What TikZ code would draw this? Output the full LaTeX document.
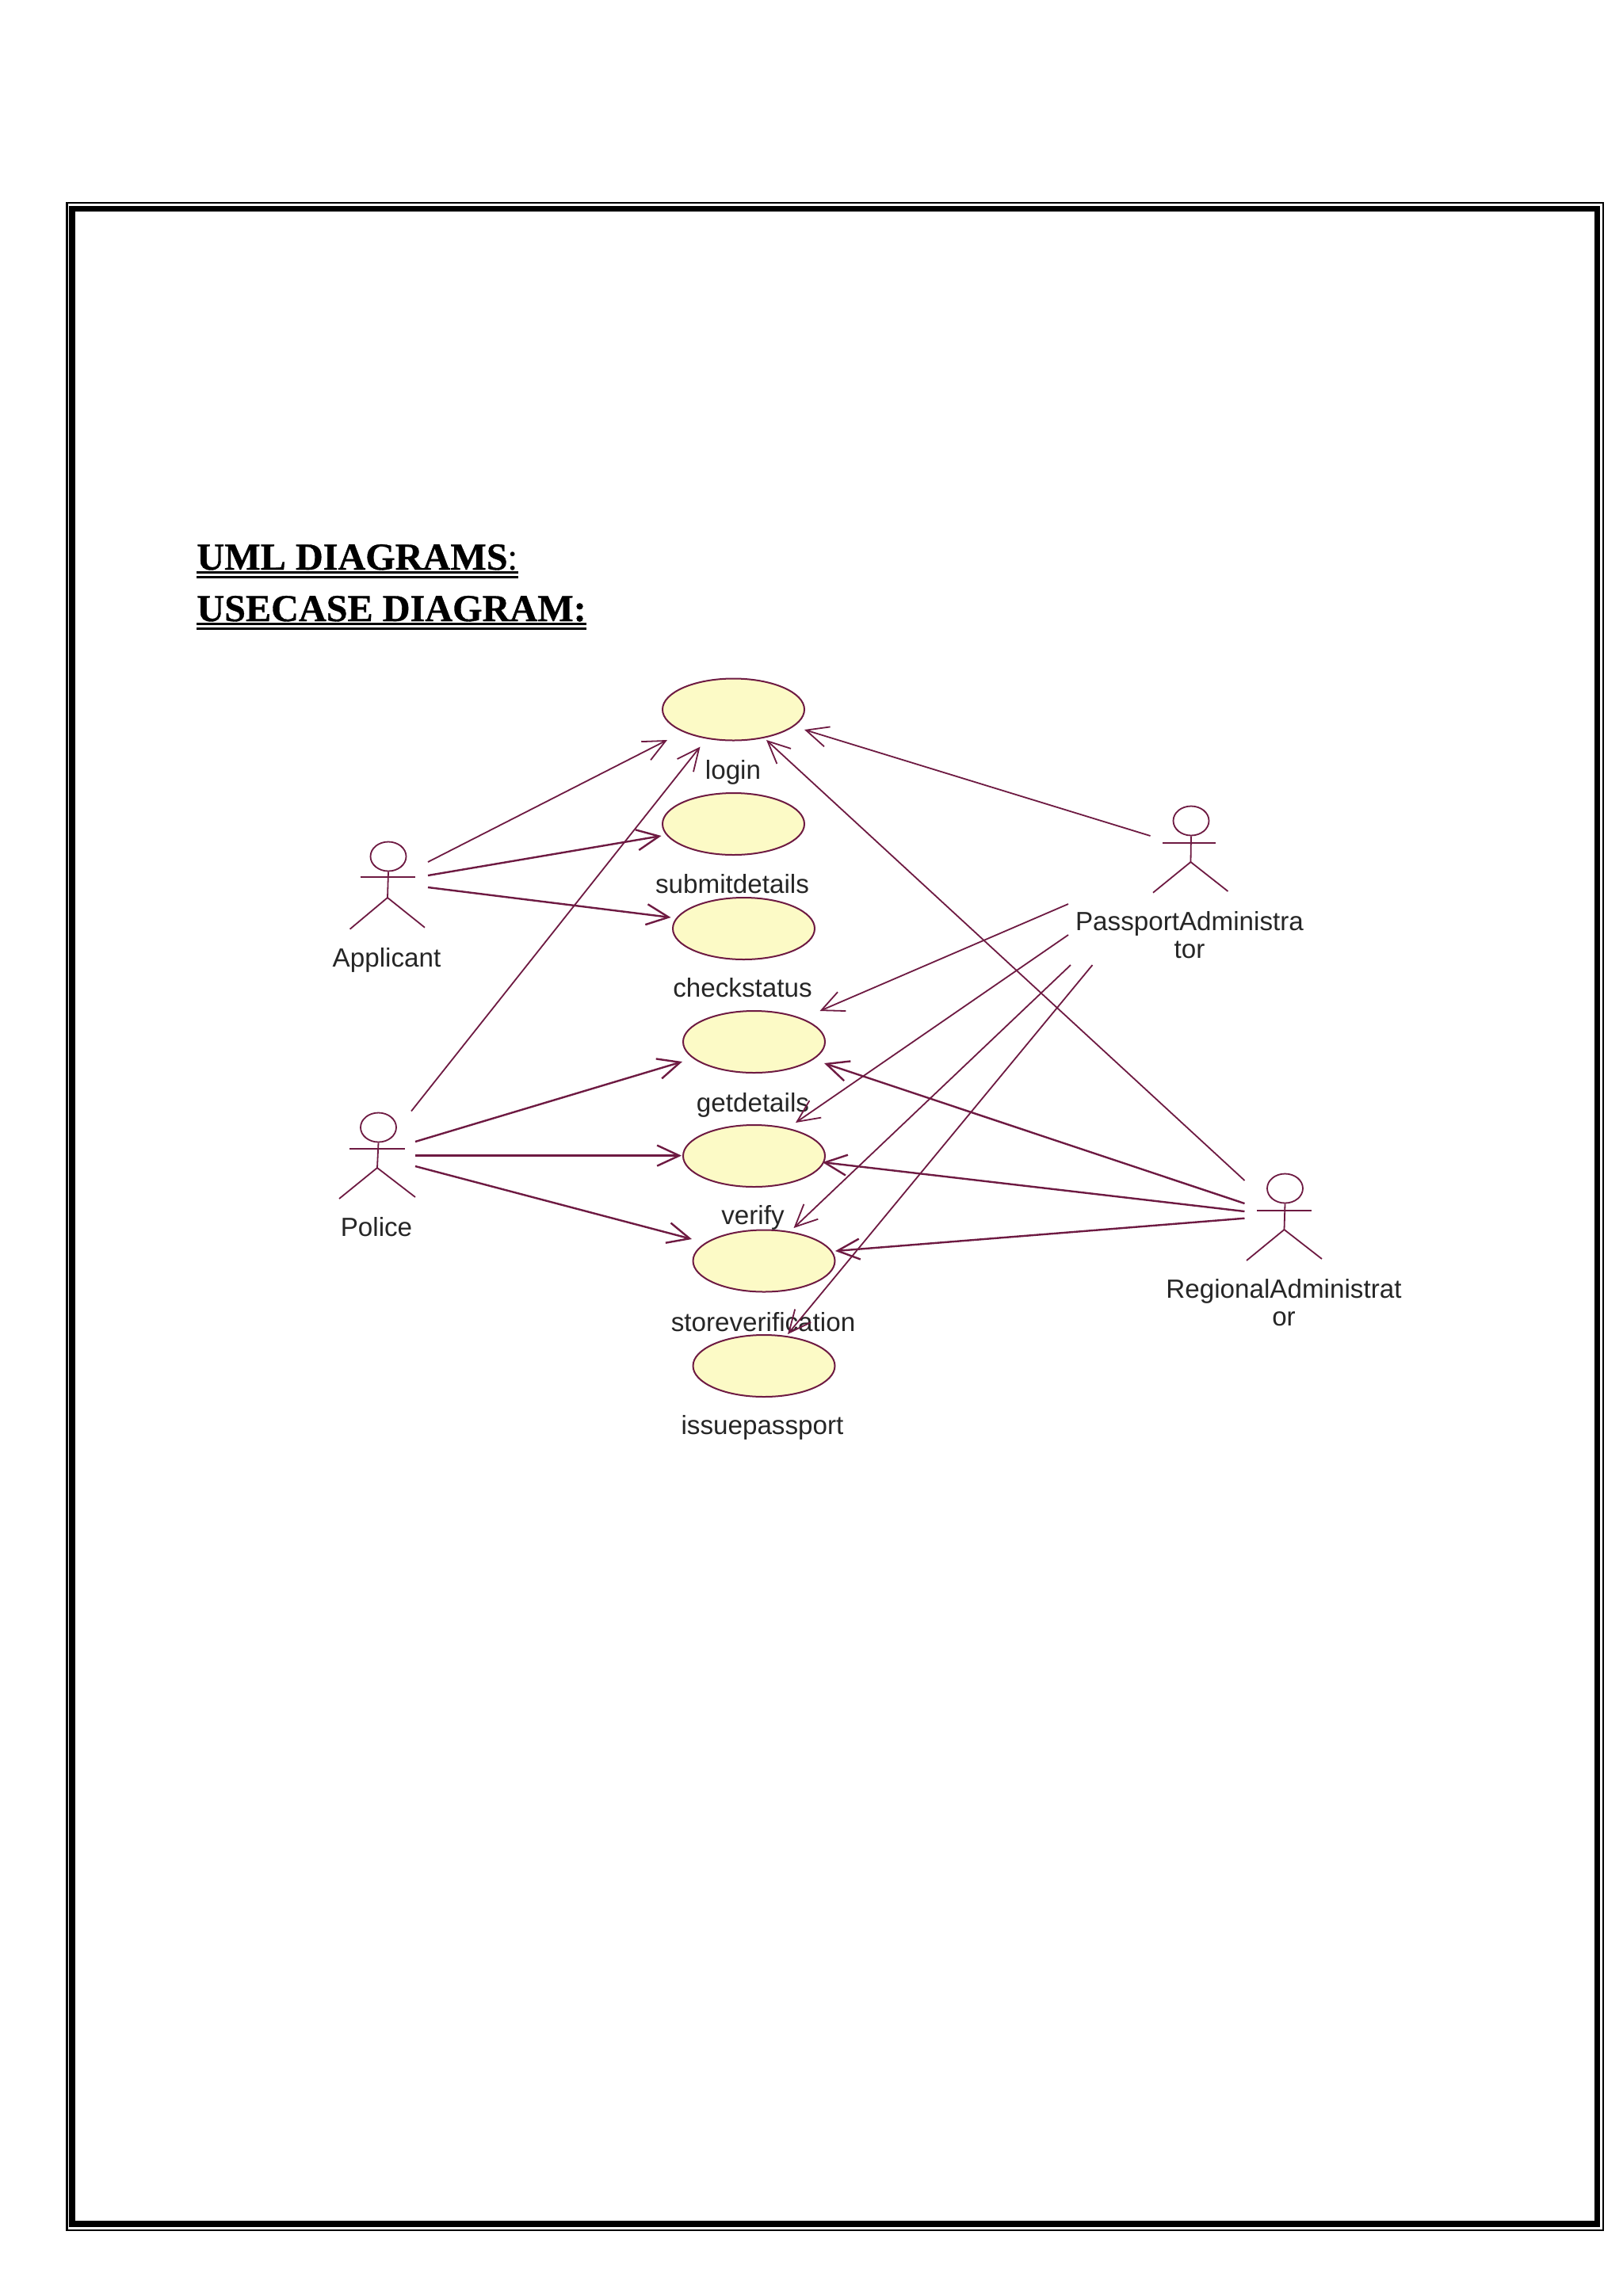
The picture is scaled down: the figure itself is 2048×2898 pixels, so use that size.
\documentclass[tikz,border=0pt]{standalone}
\usepackage{fontspec}
\usetikzlibrary{shapes.geometric,arrows.meta,calc}
\newfontfamily\umlfont{Liberation Sans}
\newfontfamily\titlefont{Liberation Serif}[BoldFeatures={FakeBold=0.7}]
\definecolor{umlline}{HTML}{6E1A42}
\definecolor{umlfill}{HTML}{FCFAC6}
\definecolor{umltext}{HTML}{262626}
\tikzset{
  usecase/.style={ellipse,draw=umlline,fill=umlfill,line width=1pt,minimum width=89.5pt,minimum height=39pt,inner sep=0pt},
  actorhead/.style={ellipse,draw=umlline,line width=0.9pt,minimum width=22.5pt,minimum height=18.5pt,inner sep=0pt},
  stick/.style={draw=umlline,line width=0.9pt},
  assoc/.style={draw=umlline,line width=0.9pt,-{Straight Barb[length=14pt,width=13pt]}},
  assocheavy/.style={assoc,line width=1.2pt},
  umllabel/.style={font=\umlfont\fontsize{16.6pt}{17.3pt}\selectfont,text=umltext,inner sep=0pt,anchor=base,align=center},
  pagetitle/.style={font=\titlefont\fontsize{24.1pt}{28pt}\selectfont,inner sep=0pt,anchor=base west},
  titlerule/.style={draw=black,line width=1.5pt}
}
\begin{document}
\begin{tikzpicture}[x=0.5pt,y=-0.5pt]
\useasboundingbox (0,0) rectangle (2048,2898);
\fill[white] (0,0) rectangle (2048,2898);
% page frame
\draw[black,line width=1.2pt] (84.5,256) rectangle (2023,2815);
\draw[black,line width=3.8pt] (91,263.5) rectangle (2015.5,2807);
% titles
\node[pagetitle] (title1) at (248,719) {\textbf{UML DIAGRAMS}:};
\node[pagetitle] (title2) at (248,784) {\textbf{USECASE DIAGRAM:}};
\draw[titlerule] ($(title1.base west)+(0,3.5)$) -- ($(title1.base east)+(0,3.5)$);
\draw[titlerule] ($(title1.base west)+(0,9.5)$) -- ($(title1.base east)+(0,9.5)$);
\draw[titlerule] ($(title2.base west)+(0,3)$) -- ($(title2.base east)+(0,3)$);
\draw[titlerule] ($(title2.base west)+(0,9)$) -- ($(title2.base east)+(0,9)$);
% use cases
\node[usecase] (login) at (925.5,895.5) {};
\node[usecase] (submit) at (925.5,1040) {};
\node[usecase] (check) at (938.5,1172) {};
\node[usecase] (getd) at (951.5,1315) {};
\node[usecase] (verif) at (951.5,1459) {};
\node[usecase] (store) at (964,1591.5) {};
\node[usecase] (issue) at (964,1724) {};
\node[umllabel] (loginlabel) at (925,983) {login};
\node[umllabel] (submitlabel) at (924,1127) {submitdetails};
\node[umllabel] (checklabel) at (937,1258) {checkstatus};
\node[umllabel] (getdlabel) at (950,1403.5) {getdetails};
\node[umllabel] (veriflabel) at (950,1545.5) {verify};
\node[umllabel] (storelabel) at (963,1680) {storeverification};
\node[umllabel] (issuelabel) at (962,1810) {issuepassport};
% actors
\node[actorhead] (applicant) at (490,1081) {};
\draw[stick] ($(applicant)+(-35.5,25.7)$) -- ($(applicant)+(34,25.7)$);
\draw[stick] (applicant.south) -- ($(applicant)+(-1,52)$) coordinate (applicanthip);
\draw[stick] ($(applicant)+(-48.4,91.7)$) -- (applicanthip) -- ($(applicant)+(46,89.7)$);
\node[umllabel] (applicantlabel) at (488,1220) {Applicant};
\node[actorhead] (police) at (477.5,1423) {};
\draw[stick] ($(police)+(-36.5,27)$) -- ($(police)+(33.5,27)$);
\draw[stick] (police.south) -- ($(police)+(-1.5,51)$) coordinate (policehip);
\draw[stick] ($(police)+(-49.5,90)$) -- (policehip) -- ($(police)+(46.5,88)$);
\node[umllabel] (policelabel) at (475,1560) {Police};
\node[actorhead] (passport) at (1503,1036) {};
\draw[stick] ($(passport)+(-36,28)$) -- ($(passport)+(31,28)$);
\draw[stick] (passport.south) -- ($(passport)+(-.5,52)$) coordinate (passporthip);
\draw[stick] ($(passport)+(-48,90.7)$) -- (passporthip) -- ($(passport)+(46.5,89)$);
\node[umllabel] (passportlabel) at (1501,1209) {PassportAdministra\\tor};
\node[actorhead] (regional) at (1621.5,1500) {};
\draw[stick] ($(regional)+(-35.5,27.7)$) -- ($(regional)+(33.5,27.7)$);
\draw[stick] (regional.south) -- ($(regional)+(-1,52)$) coordinate (regionalhip);
\draw[stick] ($(regional)+(-48.5,91)$) -- (regionalhip) -- ($(regional)+(46.5,89)$);
\node[umllabel] (regionallabel) at (1620,1673) {RegionalAdministrat\\or};
% associations
\draw[assoc] ($(applicant)+(50,7)$) -- ($(login)+(-83.5,38.5)$);
\draw[assocheavy] ($(applicant)+(50,24)$) -- ($(submit)+(-91,15)$);
\draw[assocheavy] ($(applicant)+(50,39)$) -- ($(check)+(-92,-14)$);
\draw[assoc] ($(police)+(41.5,-20.5)$) -- ($(login)+(-42,47)$);
\draw[assocheavy] ($(police)+(46.5,18)$) -- ($(getd)+(-90.5,25)$);
\draw[assocheavy] ($(police)+(46.5,35.6)$) -- ($(verif)+(-91.5,-0.4)$);
\draw[assocheavy] ($(police)+(46.5,49)$) -- ($(store)+(-91,-27.5)$);
\draw[assoc] ($(passport)+(-51.5,19)$) -- ($(login)+(89.5,25.5)$);
\draw[assoc] ($(passport)+(-155,105)$) -- ($(getd)+(83,-39)$);
\draw[assoc] ($(passport)+(-155,144)$) -- ($(verif)+(52.5,-42)$);
\draw[assoc] ($(passport)+(-152,182)$) -- ($(store)+(37.5,-41.5)$);
\draw[assoc] ($(passport)+(-124.5,182)$) -- ($(issue)+(30,-40)$);
\draw[assoc] ($(regional)+(-51,-10)$) -- ($(login)+(41.5,38.5)$);
\draw[assocheavy] ($(regional)+(-51,19)$) -- ($(getd)+(88.5,27)$);
\draw[assocheavy] ($(regional)+(-51,29)$) -- ($(verif)+(86.3,8)$);
\draw[assocheavy] ($(regional)+(-51,37.7)$) -- ($(store)+(90,-12.5)$);
\end{tikzpicture}
\end{document}
